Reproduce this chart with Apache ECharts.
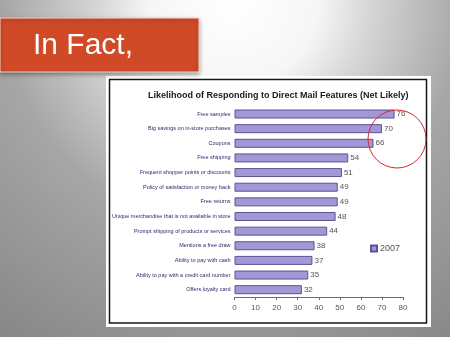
<!DOCTYPE html>
<html>
<head>
	<meta charset="utf-8">
	<title>In Fact</title>
	<style type="text/css">
		body{
			margin: 0px;
		}
		.chart{
			width: 450px;
			height: 337px;
		}
	</style>
	<script type="text/javascript" src="https://cdn.jsdelivr.net/npm/echarts@6/dist/echarts.min.js"></script>
</head>
<body>
	<div id="chart" class="chart"></div>
	<script type="text/javascript">
		var categories = [
			'Free samples',
			'Big savings on in-store purchases',
			'Coupons',
			'Free shipping',
			'Frequent shopper points or discounts',
			'Policy of satisfaction or money back',
			'Free returns',
			'Unique merchandise that is not available in store',
			'Prompt shipping of products or services',
			'Mentions a free draw',
			'Ability to pay with cash',
			'Ability to pay with a credit card number',
			'Offers loyalty card'
		];
		var values2007 = [76, 70, 66, 54, 51, 49, 49, 48, 44, 38, 37, 35, 32];
		var seriesName = '2007';

		window.onload = function(){
			var chart = echarts.init(document.getElementById('chart'));
			chart.setOption({
				animation: false,
				backgroundColor: {
					type: 'radial', x: 0.52, y: 0, r: 1.25,
					colorStops: [
						{offset: 0, color: '#ffffff'},
						{offset: 0.2, color: '#f6f6f6'},
						{offset: 0.33, color: '#d4d4d4'},
						{offset: 0.55, color: '#a6a6a6'},
						{offset: 1, color: '#858585'}
					]
				},
				graphic: [
					// red header box
					{type: 'rect', shape: {x: 0, y: 18, width: 199, height: 54}, z: 0,
						style: {fill: '#d04a28', stroke: '#f3d6cc', lineWidth: 1,
							shadowBlur: 4, shadowColor: 'rgba(0,0,0,0.35)', shadowOffsetY: 2}},
					{type: 'text', x: 33, y: 46, z: 1,
						style: {text: 'In Fact,', fill: '#ffffff', fontSize: 30,
							fontFamily: 'Liberation Sans', verticalAlign: 'middle'}},
					// white panel
					{type: 'rect', shape: {x: 106, y: 76, width: 325, height: 251}, z: -10,
						style: {fill: '#ffffff'}},
					{type: 'rect', shape: {x: 109.5, y: 79.5, width: 317, height: 243.5}, z: -9,
						style: {fill: 'none', stroke: '#151515', lineWidth: 1.5}},
					// highlight circle
					{type: 'circle', shape: {cx: 397, cy: 139, r: 29}, z: 20,
						style: {fill: 'none', stroke: '#d9262e', lineWidth: 1}}
				],
				title: {
					text: 'Likelihood of Responding to Direct Mail Features (Net Likely)',
					left: 148,
					top: 91,
					padding: 0,
					textStyle: {
						fontSize: 9,
						fontWeight: 'bold',
						color: '#1a1a1a',
						fontFamily: 'Liberation Sans'
					}
				},
				legend: {
					data: [seriesName],
					left: 370,
					top: 244,
					padding: 0,
					itemWidth: 6,
					itemHeight: 6,
					itemGap: 4,
					icon: 'rect',
					textStyle: {fontSize: 9, color: '#555', fontFamily: 'Liberation Sans', padding: [0, 0, 0, -2]}
				},
				grid: {
					left: 234.5,
					right: 47,
					top: 106.7,
					bottom: 40
				},
				xAxis: {
					type: 'value',
					min: 0,
					max: 80,
					interval: 10,
					splitLine: {show: false},
					axisLine: {show: true, lineStyle: {color: '#6a6a8a', width: 1}},
					axisTick: {show: true, length: 3, lineStyle: {color: '#6a6a8a'}},
					axisLabel: {fontSize: 8, color: '#555', margin: 7, fontFamily: 'Liberation Sans'}
				},
				yAxis: {
					type: 'category',
					data: categories,
					inverse: true,
					axisLine: {show: false},
					axisTick: {show: false},
					axisLabel: {fontSize: 5.5, color: '#2b2b6b', margin: 4, fontFamily: 'Liberation Sans'}
				},
				series: [{
					name: seriesName,
					type: 'bar',
					data: values2007,
					barWidth: 9,
					itemStyle: {
						color: '#a397d6',
						borderColor: '#5e5096',
						borderWidth: 1
					},
					label: {
						show: true,
						position: 'right',
						distance: 2,
						fontSize: 8,
						color: '#555',
						fontFamily: 'Liberation Sans'
					}
				}]
			});
		};
	</script>
</body>
</html>
